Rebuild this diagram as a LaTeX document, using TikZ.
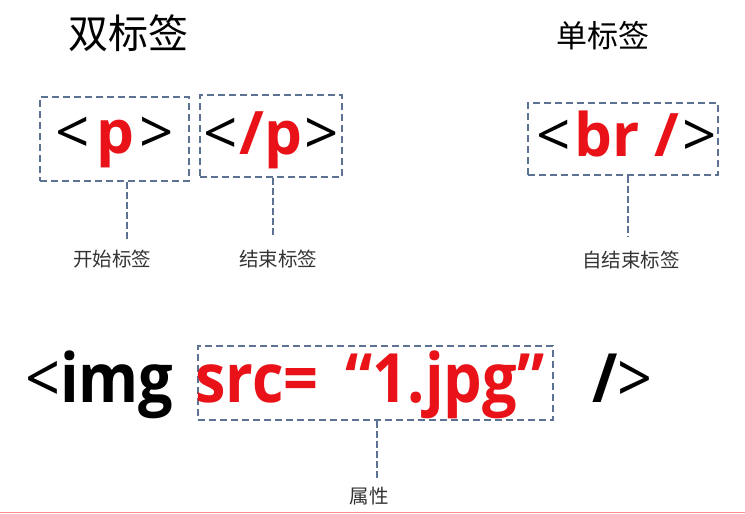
\documentclass[tikz,border=0pt]{standalone}
\usepackage{fontspec}
\usepackage{xcolor}
\usepackage{tikz}
\usetikzlibrary{positioning}
\setmainfont{Open Sans}
\newfontfamily\cjk{Noto Sans CJK SC}
\definecolor{tagred}{RGB}{232,18,24}
\definecolor{boxline}{RGB}{92,114,146}
\newcommand{\lt}{{\mdseries<}}
\newcommand{\gt}{{\mdseries>}}

\begin{document}
\begin{tikzpicture}[x=1pt, y=-1pt,
        tagbox/.style={draw=boxline, line width=1.4pt, dash pattern=on 7pt off 4pt},
        link/.style={boxline, line width=1.4pt, dash pattern=on 7pt off 3pt},
        code/.style={font=\fontsize{60}{62}\selectfont\bfseries, inner sep=0pt, anchor=base},
        bigcode/.style={code, font=\fontsize{68}{70}\selectfont\bfseries\addfontfeatures{FakeStretch=0.9}, anchor=base west},
        note/.style={font=\cjk\fontsize{19.5}{21}\selectfont, text=black!80, inner sep=0pt},
        title/.style={font=\cjk\fontsize{40}{44}\selectfont, inner sep=0pt}]
    \useasboundingbox (0,0) rectangle (745,514);

    % titles
    \node[title] (pairtitle) at (128,33) {双标签};
    \node[title, font=\cjk\fontsize{31}{34}\selectfont] (singletitle) at (603,36) {单标签};

    % boxes round the tags
    \node[tagbox, minimum width=149, minimum height=84] (openbox) at (114.5,139) {};
    \node[tagbox, minimum width=142, minimum height=82] (closebox) at (271,136) {};
    \node[tagbox, minimum width=190, minimum height=72] (selfbox) at (623,139) {};
    \node[tagbox, minimum width=355, minimum height=74] (attrbox) at (375.5,383) {};

    % tags
    \node[code] (opentag) at (115,153) {\lt\hspace{6pt}\textcolor{tagred}{p}\hspace{6pt}\gt};
    \node[code] (closetag) at (271,154) {\lt\hspace{2pt}\textcolor{tagred}{/p}\hspace{2pt}\gt};
    \node[code] (selftag) at (627,156) {\lt\hspace{3pt}\textcolor{tagred}{br /}\hspace{3pt}\gt};
    \node[bigcode] (imgtag) at (25,402) {\lt img};
    \node[bigcode, text=tagred] (attrtext) at (195,402) {src=\hspace{27pt}“1.jpg”};
    \node[bigcode] (endtag) at (592,402) {/\gt};

    % labels
    \node[note] (openlabel) at (112,259) {开始标签};
    \node[note] (closelabel) at (278,259) {结束标签};
    \node[note] (selflabel) at (631,260) {自结束标签};
    \node[note] (attrlabel) at (369,496) {属性};

    % connectors
    \coordinate (opendrop) at (127,240);
    \coordinate (closedrop) at (273,237);
    \coordinate (selfdrop) at (628,236);
    \coordinate (attrdrop) at (377,478);
    \draw[link] (openbox.south -| opendrop) -- (opendrop);
    \draw[link] (closebox.south -| closedrop) -- (closedrop);
    \draw[link] (selfbox.south -| selfdrop) -- (selfdrop);
    \draw[link] (attrbox.south -| attrdrop) -- (attrdrop);

    \draw[red!45, line width=1pt] (0,512) -- (745,512);
\end{tikzpicture}
\end{document}
